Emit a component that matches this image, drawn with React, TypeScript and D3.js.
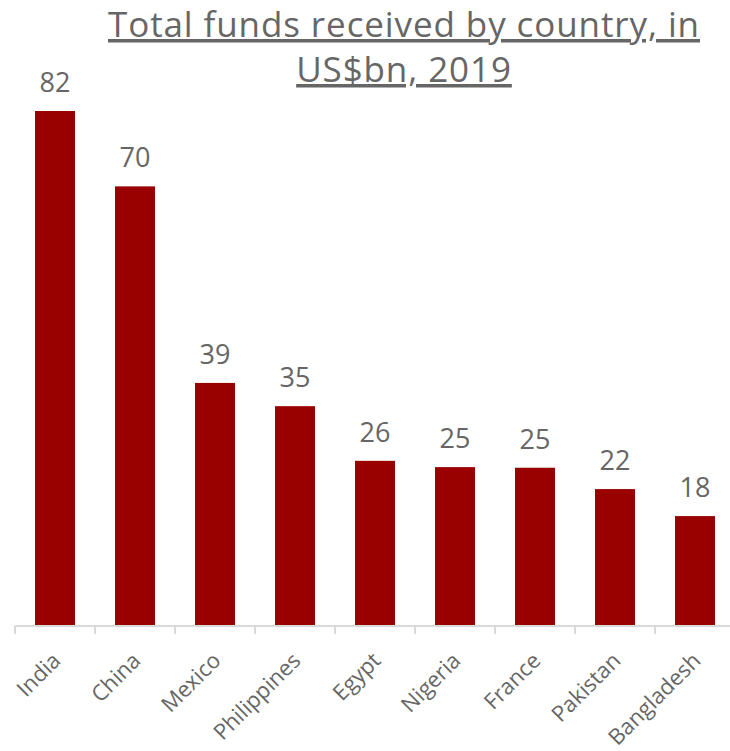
import React from "react";
import * as d3 from "d3";

const categories = ["India", "China", "Mexico", "Philippines", "Egypt", "Nigeria", "France", "Pakistan", "Bangladesh"];
const values = [82, 70, 38.7, 35, 26.3, 25.3, 25.2, 21.8, 17.5];
const valueLabels = ["82", "70", "39", "35", "26", "25", "25", "22", "18"];
const titleLines = ["Total funds received by country, in", "US$bn, 2019"];

const W = 730;
const H = 751;
const baseY = 626;
const font = "'Open Sans', 'Noto Sans', sans-serif";
const grey = "#666666";

export default function App() {
  const x = d3.scaleBand<string>().domain(categories).range([15, 735]).paddingInner(0.5).paddingOuter(0.25);
  const step = x.step();
  const y = d3.scaleLinear().domain([0, 82]).range([baseY, 111]);
  const tickXs = categories.map((c) => (x(c) as number) - (step - x.bandwidth()) / 2);

  return (
    <svg width={W} height={H} style={{ position: "absolute", left: 0, top: 0 }}>
      <rect width={W} height={H} fill="#ffffff" />
      {titleLines.map((t, i) => (
        <text key={i} x={404} y={37 + i * 45} textAnchor="middle" fontFamily={font} fontSize={35} letterSpacing={0.9} fill={grey} textDecoration="underline">
          {t}
        </text>
      ))}
      {categories.map((c, i) => (
        <g key={c}>
          <rect x={x(c)} y={y(values[i])} width={x.bandwidth()} height={baseY - y(values[i])} fill="#990000" />
          <text x={(x(c) as number) + x.bandwidth() / 2} y={y(values[i]) - 19} textAnchor="middle" fontFamily={font} fontSize={27} fill={grey}>
            {valueLabels[i]}
          </text>
          <text
            transform={`translate(${(x(c) as number) + x.bandwidth() / 2 + 7},${662}) rotate(-45)`}
            textAnchor="end"
            fontFamily={font}
            fontSize={22}
            fill={grey}
          >
            {c}
          </text>
        </g>
      ))}
      <line x1={15} x2={W} y1={baseY} y2={baseY} stroke="#d9d9d9" strokeWidth={2} />
      {tickXs.map((tx, i) => (
        <line key={i} x1={tx} x2={tx} y1={baseY} y2={634} stroke="#d9d9d9" strokeWidth={2} />
      ))}
    </svg>
  );
}
